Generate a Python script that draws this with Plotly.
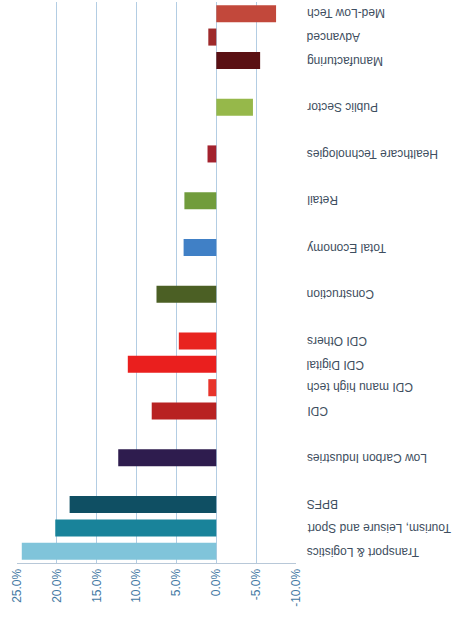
import plotly.graph_objects as go

# Sectors, listed top to bottom; None marks an empty row between groups
categories = [
    "Med-Low Tech", "Advanced", "Manufacturing", None, "Public Sector", None,
    "Healthcare Technologies", None, "Retail", None, "Total Economy", None,
    "Construction", None, "CDI Others", "CDI Digital", "CDI manu high tech", "CDI",
    None, "Low Carbon Industries", None, "BPFS", "Tourism, Leisure and Sport",
    "Transport & Logistics",
]
# Growth, percent
values = [
    -7.5, 1.0, -5.5, None, -4.6, None,
    1.1, None, 4.0, None, 4.1, None,
    7.5, None, 4.7, 11.1, 1.0, 8.1,
    None, 12.3, None, 18.4, 20.2,
    24.4,
]
colors = [
    "#C2483B", "#9E2A2B", "#5A1013", None, "#96B84A", None,
    "#A3222E", None, "#719C3C", None, "#4080C6", None,
    "#4B5F24", None, "#E8241F", "#EA1F1E", "#E8342B", "#B82222",
    None, "#2E1C4E", None, "#0F4F63", "#19839A",
    "#80C4DA",
]
x_ticks = [25, 20, 15, 10, 5, 0, -5, -10]

rows = [i for i, v in enumerate(values) if v is not None]
fig = go.Figure(
    go.Bar(
        x=[values[i] for i in rows],
        y=rows,
        orientation="h",
        width=0.73,
        marker=dict(color=[colors[i] for i in rows], line=dict(width=0)),
    )
)

# Upside-down sector labels to the right of the plot area
for i in rows:
    fig.add_annotation(
        x=1, xref="paper", y=i, yref="y",
        text=categories[i],
        textangle=180,
        showarrow=False,
        xanchor="left", yanchor="middle",
        xshift=9,
        font=dict(size=12, color="#3E4E60"),
    )

fig.update_layout(
    width=457,
    height=643,
    margin=dict(l=17, r=161, t=2, b=80),
    paper_bgcolor="white",
    plot_bgcolor="white",
    showlegend=False,
    font=dict(family="Liberation Sans, Arial, sans-serif"),
)
fig.update_xaxes(
    range=[25, -10],
    tickvals=x_ticks,
    ticktext=[f"{t:.1f}%" for t in x_ticks],
    tickangle=-90,
    tickfont=dict(size=12, color="#4479A3"),
    showgrid=True,
    gridcolor="#B3CDE3",
    gridwidth=1,
    zeroline=False,
    showline=True,
    linecolor="#B8C8D8",
    mirror=False,
    ticks="",
)
fig.update_yaxes(
    range=[len(categories) - 0.5, -0.5],
    showticklabels=False,
    showgrid=False,
    zeroline=False,
    showline=False,
    ticks="",
)

fig.write_html("out.html")
